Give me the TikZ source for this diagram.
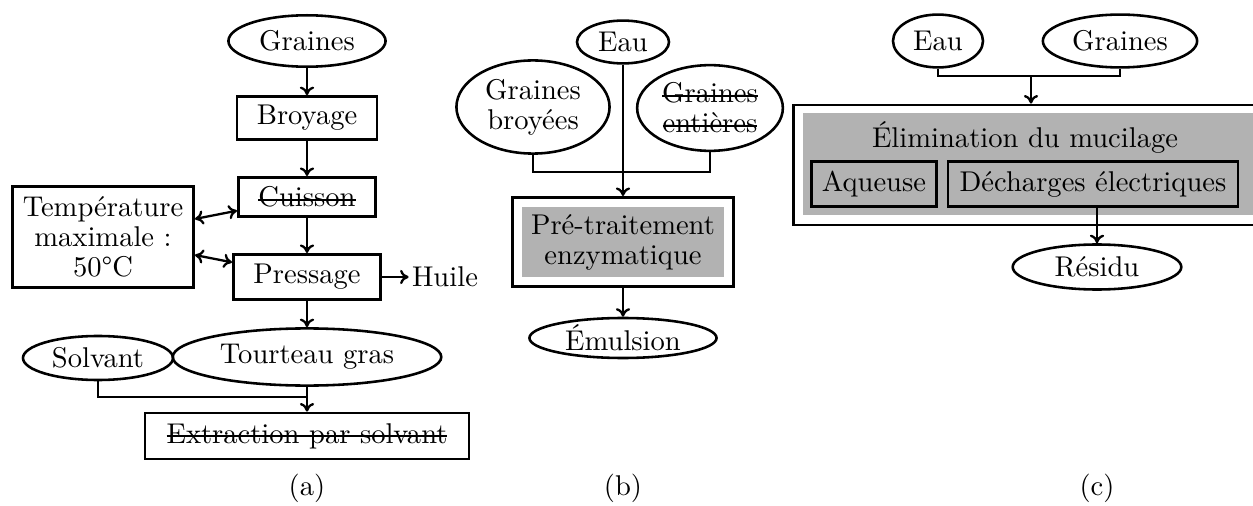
\documentclass[tikz,border=0pt]{standalone}
\usepackage{tikz}
\usetikzlibrary{arrows.meta, positioning, shapes.geometric, calc}
\newsavebox{\barrebox}
\newcommand{\barre}[1]{\sbox{\barrebox}{#1}\rlap{\rule[0.5ex]{\wd\barrebox}{0.6pt}}\usebox{\barrebox}}

\begin{document}
\begin{tikzpicture}[
  x=0.35pt, y=-0.35pt,
  every node/.style={font=\fontsize{10}{10.5}\selectfont},
  ovale/.style={ellipse, draw, line width=0.9pt, inner sep=0pt, align=center},
  boite/.style={rectangle, draw, line width=1pt, inner sep=0pt, align=center},
  grise/.style={rectangle, fill=black!30, inner sep=0pt, align=center},
  fleche/.style={-{To[length=3pt,width=5pt]}, line width=0.8pt},
  trait/.style={line width=0.8pt},
]
\clip (0,0) rectangle (1253,506);

% (a)
\node[ovale, minimum width=55pt, minimum height=18pt] (graines) at (307,41) {Graines};
\node[boite, minimum width=49pt, minimum height=15pt] (broyage) at (307,118) {Broyage};
\node[boite, minimum width=48pt, minimum height=13.7pt] (cuisson) at (307,197) {\barre{Cuisson}};
\node[boite, minimum width=63.4pt, minimum height=35.4pt] (temp) at (103,237) {Température\\maximale :\\50°C};
\node[boite, minimum width=51.5pt, minimum height=15.8pt] (pressage) at (307,277) {Pressage};
\node[inner sep=1pt] (huile) at (445,277) {Huile};
\node[ovale, minimum width=94pt, minimum height=20pt] (tourteau) at (307,357) {Tourteau gras};
\node[ovale, minimum width=52.5pt, minimum height=15.4pt] (solvant) at (98,358) {Solvant};
\node[boite, minimum width=113.4pt, minimum height=16.1pt] (extraction) at (307,436) {\barre{Extraction par solvant}};
\coordinate (ja) at (307,397);
\node (leg-a) at (307,488) {(a)};

\draw[fleche] (graines) -- (broyage);
\draw[fleche] (broyage) -- (cuisson);
\draw[fleche] (cuisson) -- (pressage);
\draw[fleche, {To[length=3pt,width=5pt]}-{To[length=3pt,width=5pt]}] (temp) -- (cuisson);
\draw[fleche, {To[length=3pt,width=5pt]}-{To[length=3pt,width=5pt]}] (temp) -- (pressage);
\draw[fleche] (pressage) -- (huile);
\draw[fleche] (pressage) -- (tourteau);
\draw[trait] (solvant.south) |- (ja);
\draw[fleche] (tourteau.south) -- (extraction.north);

% (b)
\node[ovale, minimum width=32.2pt, minimum height=15pt] (eaub) at (623,42) {Eau};
\node[ovale, minimum width=53.6pt, minimum height=32.6pt] (gbroy) at (533,107) {Graines\\broyées};
\node[ovale, minimum width=51pt, minimum height=30pt] (gent) at (710,108) {\barre{Graines}\\\barre{entières}};
\node[boite, fill=white, minimum width=77.4pt, minimum height=31.2pt] (pretrait) at (623,242) {};
\node[grise, minimum width=71pt, minimum height=24.5pt] (pretrait-txt) at (pretrait.center) {Pré-traitement\\enzymatique};
\node[ovale, minimum width=65.5pt, minimum height=14pt] (emulsion) at (623,338) {Émulsion};
\coordinate (jb) at (623,172);
\node (leg-b) at (623,488) {(b)};

\draw[trait] (gbroy.south) |- (jb) -| (gent.south);
\draw[fleche] (eaub) -- (pretrait.north);
\draw[fleche] (pretrait) -- (emulsion);

% (c)
\node[ovale, minimum width=31.5pt, minimum height=18.5pt] (eauc) at (938,41) {Eau};
\node[ovale, minimum width=54pt, minimum height=18.5pt] (grainesc) at (1120,41) {Graines};
\node[boite, fill=white, minimum width=165pt, minimum height=42pt] (cadre) at (1029,165) {};
\node[grise, minimum width=161.7pt, minimum height=35.7pt] (cadre-gris) at (1034,164) {};
\node (elim) at (1025,137) {Élimination du mucilage};
\node[boite, minimum width=43.75pt, minimum height=15.75pt] (aqueuse) at (874,184) {Aqueuse};
\node[boite, minimum width=101.5pt, minimum height=15.75pt] (decharges) at (1093,184) {Décharges électriques};
\node[ovale, minimum width=59pt, minimum height=15.75pt] (residu) at (1097,267) {Résidu};
\coordinate (jc) at (1031,76);
\node (leg-c) at (1097,488) {(c)};

\draw[trait] (eauc.south) |- (jc) -| (grainesc.south);
\draw[fleche] (jc) -- (jc |- cadre.north);
\draw[fleche] (decharges.south -| residu.north) -- (residu);

\end{tikzpicture}
\end{document}
